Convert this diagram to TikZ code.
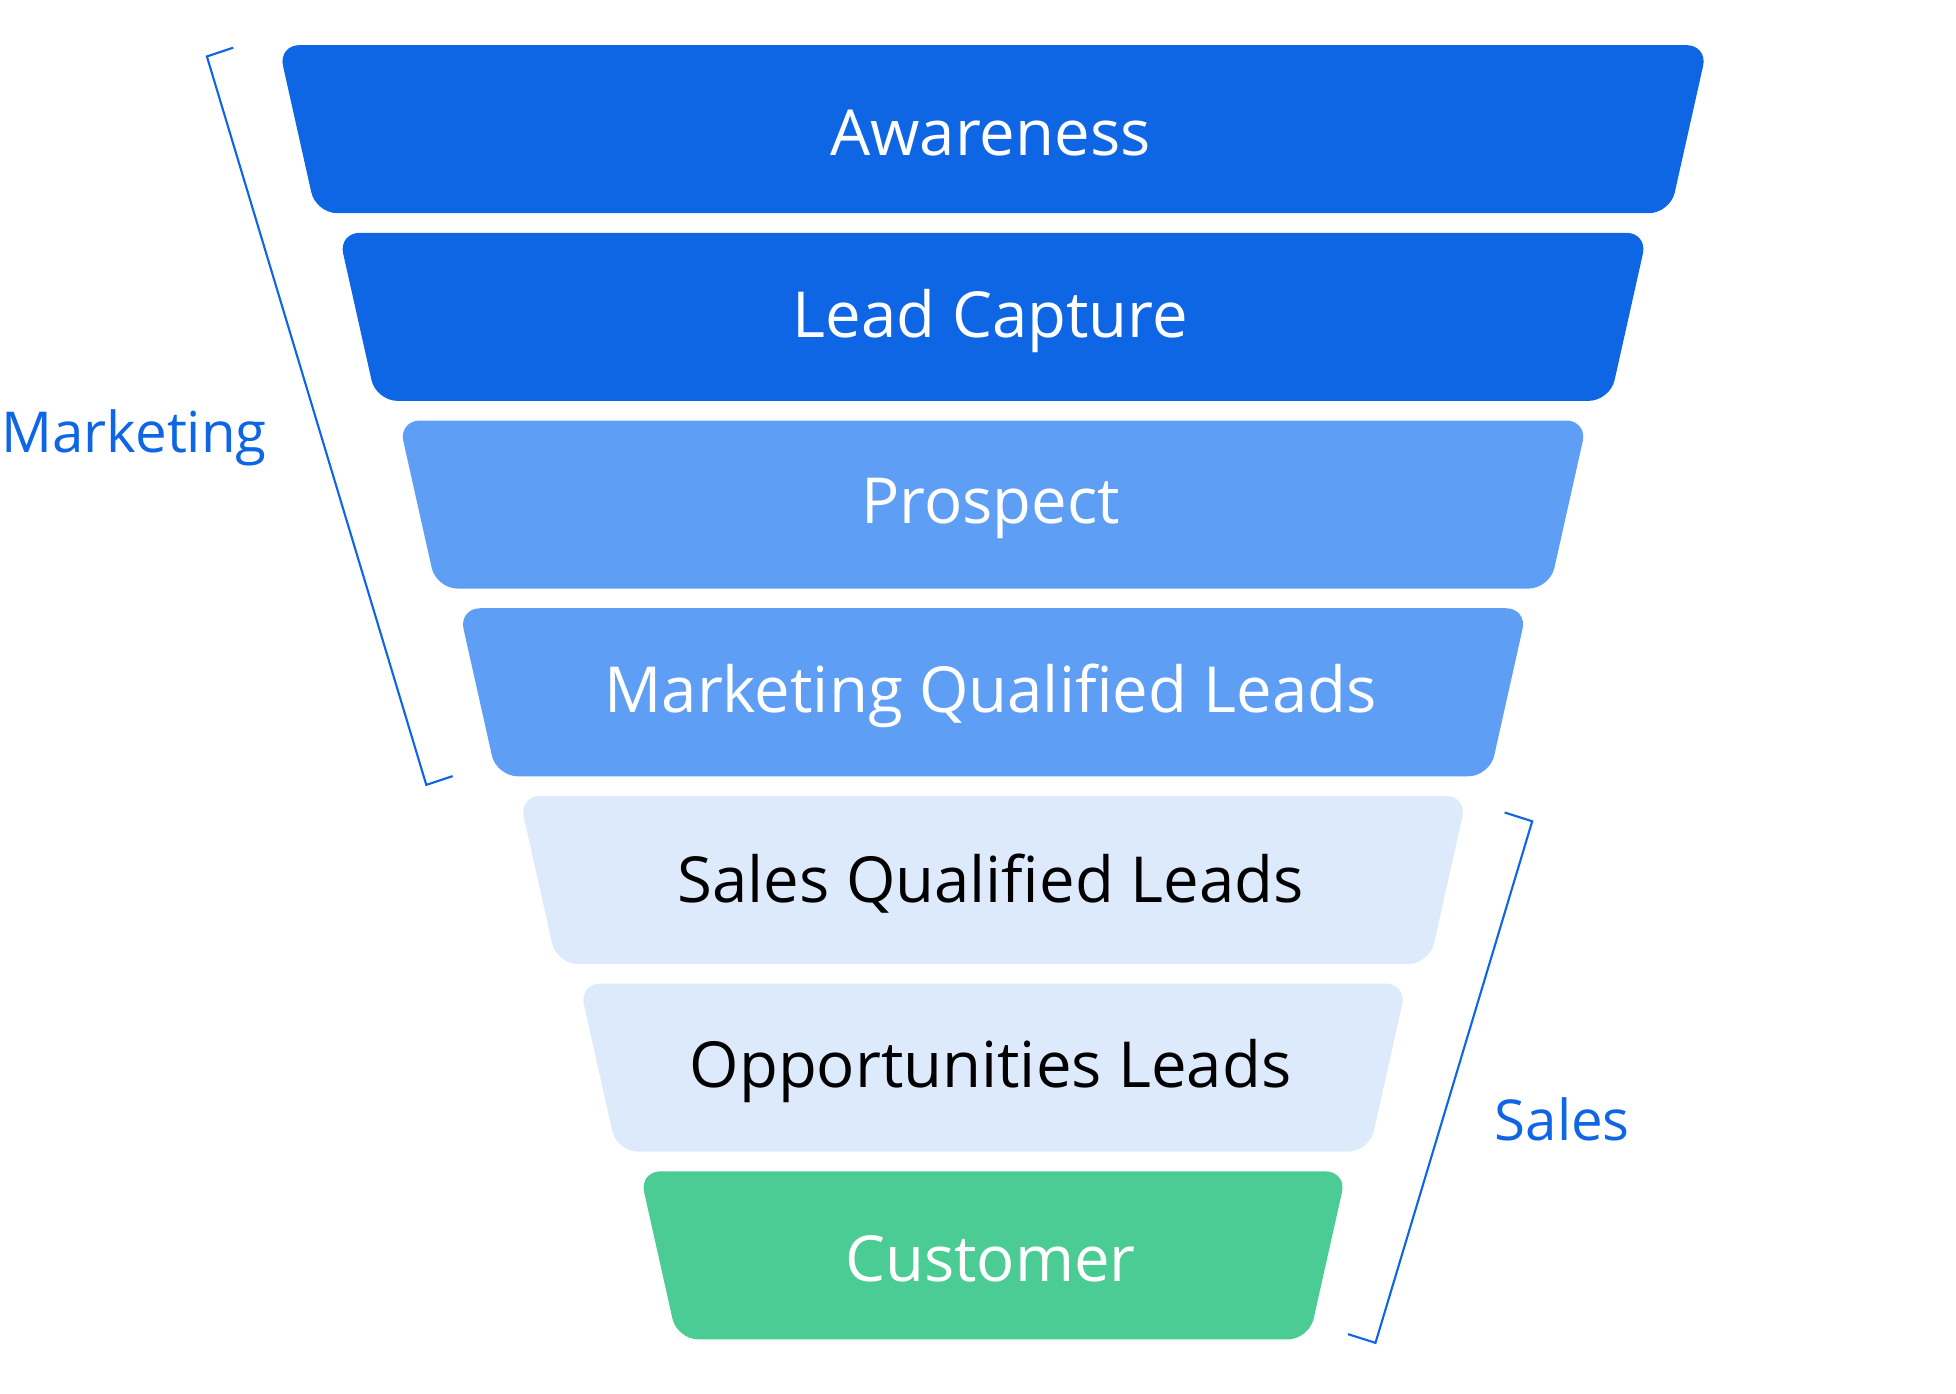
\documentclass[tikz,border=0pt]{standalone}
\usepackage{fontspec}
\setmainfont{Open Sans}
\definecolor{darkBlue}{HTML}{0E66E4}
\definecolor{midBlue}{HTML}{5E9FF5}
\definecolor{paleBlue}{HTML}{DDEAFB}
\definecolor{custGreen}{HTML}{4BCC95}
\tikzstyle{stageText}=[font=\fontsize{36}{44}\selectfont]
\tikzstyle{sideText}=[font=\fontsize{32}{40}\selectfont,text=darkBlue]
\tikzstyle{bracketLine}=[draw=darkBlue,line width=1.2pt]

\begin{document}
\begin{tikzpicture}[x=0.025cm,y=-0.025cm]
  \useasboundingbox (0,0) rectangle (1560,1111);

  % funnel stages: index/name/fill/text colour/label
  \foreach \i/\nm/\fc/\tc/\lbl in {0/aware/darkBlue/white/Awareness,
      1/capture/darkBlue/white/Lead Capture,
      2/prospect/midBlue/white/Prospect,
      3/mql/midBlue/white/Marketing Qualified Leads,
      4/sql/paleBlue/black/Sales Qualified Leads,
      5/opp/paleBlue/black/Opportunities Leads,
      6/cust/custGreen/white/Customer}{
    \pgfmathsetmacro{\yt}{36+149.7*\i}
    \pgfmathsetmacro{\yb}{\yt+134}
    \pgfmathsetmacro{\wt}{570-48*\i}
    \pgfmathsetmacro{\wb}{\wt-30}
    \fill[\fc,rounded corners=12pt] (792-\wt,\yt) -- (792+\wt,\yt)
      -- (792+\wb,\yb) -- (792-\wb,\yb) -- cycle;
    \node[stageText,text=\tc] (\nm) at (790,\yt+70) {\lbl};
  }

  % side brackets
  \coordinate (mkTop) at (165,45);
  \coordinate (mkBot) at (340,626);
  \draw[bracketLine] (186,38) -- (mkTop) -- (mkBot) -- (361,619);
  \node[sideText] (marketing) at (107,349) {Marketing};

  \coordinate (slTop) at (1222,655);
  \coordinate (slBot) at (1097,1071);
  \draw[bracketLine] (1200,648) -- (slTop) -- (slBot) -- (1075,1064);
  \node[sideText] (sales) at (1246,893) {Sales};

\end{tikzpicture}
\end{document}
